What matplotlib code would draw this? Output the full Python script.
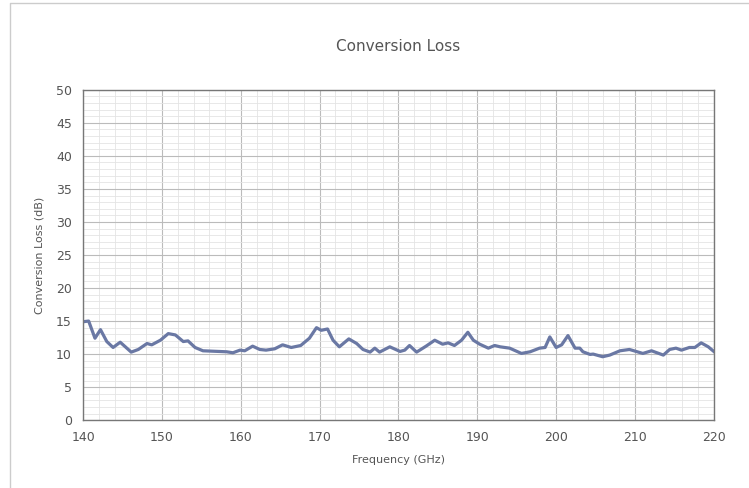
import matplotlib.pyplot as plt
from matplotlib.ticker import MultipleLocator
from matplotlib.lines import Line2D

# データ
freq = [140.0, 140.7, 141.5, 142.2, 143.0, 143.8, 144.7, 146.1, 147.0, 148.1,
        148.7, 149.8, 150.8, 151.7, 152.7, 153.3, 154.2, 155.2, 158.2, 159.0,
        159.9, 160.5, 161.5, 162.4, 163.2, 164.3, 165.3, 166.4, 167.6, 168.7,
        169.6, 170.2, 171.0, 171.7, 172.5, 173.7, 174.7, 175.5, 176.4, 177.0,
        177.6, 178.9, 180.2, 180.8, 181.4, 182.3, 183.5, 184.6, 185.6, 186.3,
        187.1, 188.0, 188.8, 189.5, 190.3, 191.4, 192.2, 192.9, 194.1, 195.6,
        196.7, 197.9, 198.6, 199.2, 200.0, 200.7, 201.5, 202.4, 203.0, 203.4,
        204.3, 204.7, 205.9, 206.8, 208.1, 209.3, 211.0, 212.1, 213.6, 214.4,
        215.2, 215.9, 216.9, 217.6, 218.4, 219.3, 220.0]
loss = [14.9, 15.0, 12.4, 13.7, 11.9, 11.0, 11.8, 10.3, 10.7, 11.6,
        11.4, 12.1, 13.1, 12.9, 11.9, 12.0, 11.0, 10.5, 10.35, 10.2,
        10.6, 10.5, 11.2, 10.7, 10.6, 10.8, 11.4, 11.0, 11.3, 12.4,
        14.0, 13.6, 13.8, 12.1, 11.1, 12.3, 11.6, 10.7, 10.3, 10.9,
        10.3, 11.1, 10.4, 10.6, 11.3, 10.3, 11.2, 12.1, 11.5, 11.7,
        11.3, 12.1, 13.3, 12.1, 11.5, 10.9, 11.3, 11.1, 10.9, 10.1,
        10.35, 10.9, 11.0, 12.6, 11.0, 11.4, 12.8, 10.9, 10.9, 10.35,
        9.95, 10.0, 9.6, 9.85, 10.5, 10.7, 10.1, 10.5, 9.85, 10.7,
        10.9, 10.6, 11.0, 11.0, 11.7, 11.1, 10.4]

line_color = '#6a78a4'
text_color = '#555555'

fig = plt.figure(figsize=(7.49, 4.88), dpi=100)
ax = fig.add_axes([0.111, 0.139, 0.842, 0.677])

# 外枠（上と左だけ見える）
fig.add_artist(Line2D([0.0134, 0.0134, 1.0], [0.0, 0.994, 0.994],
                      transform=fig.transFigure, color='#cccccc', linewidth=1.0))

ax.plot(freq, loss, color=line_color, linewidth=2.3, solid_joinstyle='round')

ax.set_xlim(140, 220)
ax.set_ylim(0, 50)
ax.xaxis.set_major_locator(MultipleLocator(10))
ax.xaxis.set_minor_locator(MultipleLocator(2))
ax.yaxis.set_major_locator(MultipleLocator(5))
ax.yaxis.set_minor_locator(MultipleLocator(1))

ax.grid(True, which='major', color='#bbbbbb', linewidth=0.8)
ax.grid(True, which='minor', color='#e4e4e4', linewidth=0.6)
ax.set_axisbelow(True)

for s in ax.spines.values():
    s.set_color('#777777')
    s.set_linewidth(1.0)

ax.tick_params(which='both', length=0, colors=text_color, labelsize=9)
ax.tick_params(axis='x', pad=8)
ax.tick_params(axis='y', pad=8)

ax.set_title('Conversion Loss', fontsize=11, color=text_color, pad=28)
ax.set_xlabel('Frequency (GHz)', fontsize=8, color=text_color, labelpad=8)
ax.set_ylabel('Conversion Loss (dB)', fontsize=8, color=text_color, labelpad=8)

plt.savefig('out.png', dpi=100)
